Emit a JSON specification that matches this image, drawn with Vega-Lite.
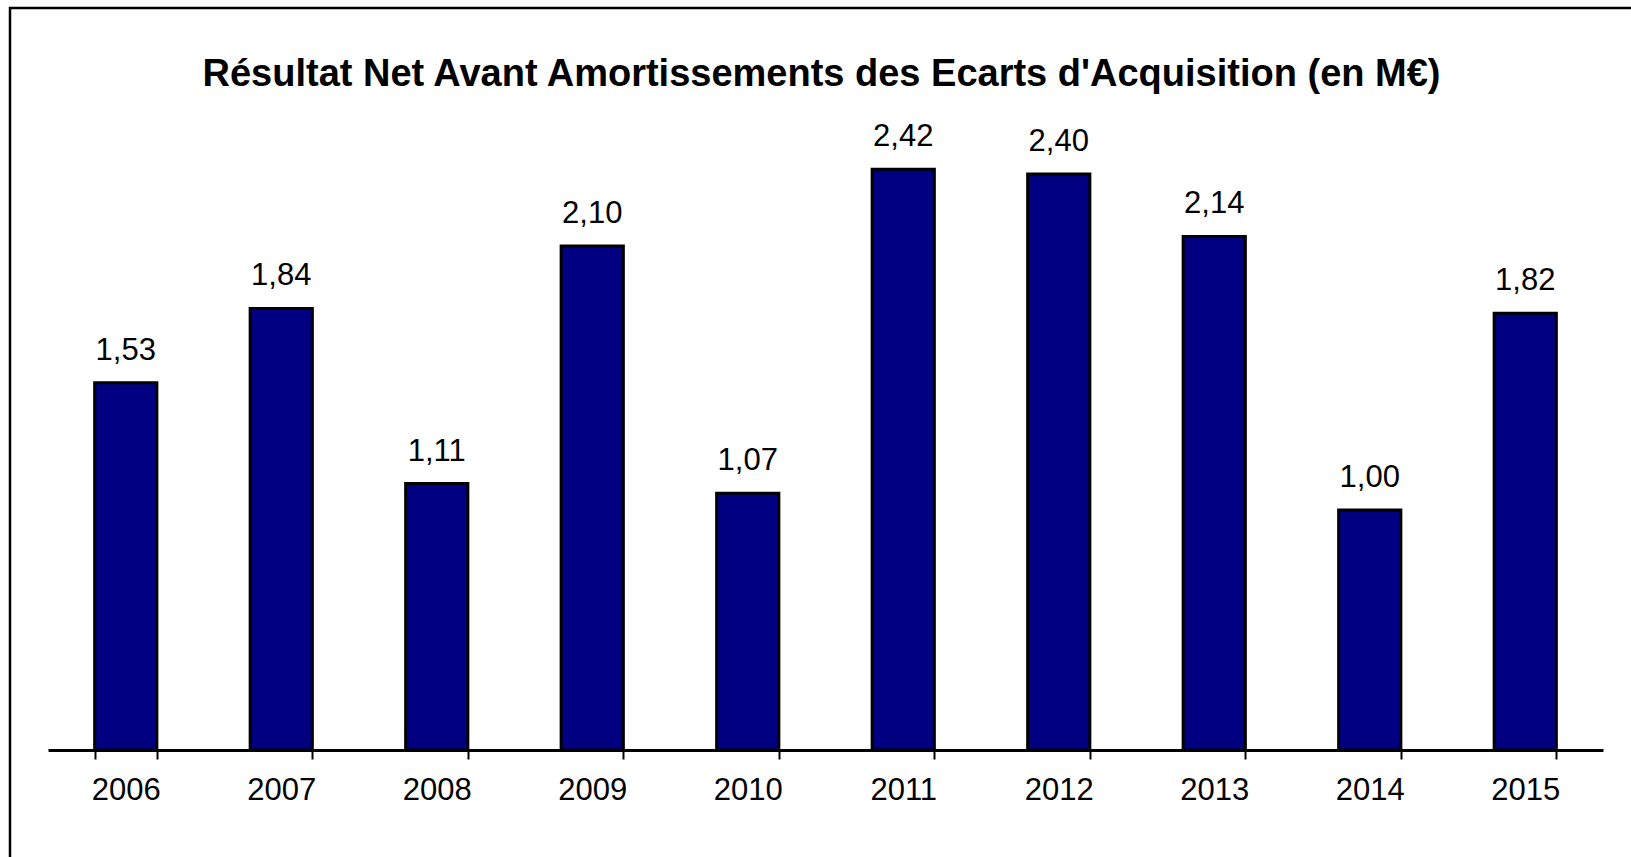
{
  "$schema": "https://vega.github.io/schema/vega-lite/v6.json",
  "autosize": {"type": "none"},
  "padding": {"left": 10, "top": 8, "right": 0, "bottom": 0},
  "width": 1623,
  "height": 851,
  "background": "white",
  "config": {
    "locale": {"number": {"decimal": ",", "thousands": " ", "grouping": [3], "currency": ["", " €"]}},
    "view": {"stroke": "black", "strokeWidth": 2.5},
    "font": "Liberation Sans"
  },
  "title": {
    "text": "Résultat Net Avant Amortissements des Ecarts d'Acquisition (en M€)",
    "font": "Liberation Sans",
    "fontSize": 38,
    "fontWeight": "bold",
    "color": "black",
    "anchor": "middle",
    "frame": "group",
    "baseline": "alphabetic",
    "offset": -116
  },
  "data": {
    "values": [
      {"year": "2006", "value": 1.53},
      {"year": "2007", "value": 1.84},
      {"year": "2008", "value": 1.11},
      {"year": "2009", "value": 2.10},
      {"year": "2010", "value": 1.07},
      {"year": "2011", "value": 2.42},
      {"year": "2012", "value": 2.40},
      {"year": "2013", "value": 2.14},
      {"year": "2014", "value": 1.00},
      {"year": "2015", "value": 1.82}
    ]
  },
  "encoding": {
    "x": {
      "field": "year",
      "type": "nominal",
      "sort": null,
      "scale": {"range": [38, 1593], "paddingInner": 0.6, "paddingOuter": 0.3},
      "axis": {
        "title": null,
        "labelAngle": 0,
        "labelFontSize": 31,
        "labelFont": "Liberation Sans",
        "labelColor": "black",
        "labelPadding": 16,
        "domainColor": "black",
        "domainWidth": 3,
        "tickColor": "black",
        "tickWidth": 2,
        "tickSize": 9,
        "tickBand": "extent",
        "grid": false,
        "offset": -109
      }
    },
    "y": {
      "field": "value",
      "type": "quantitative",
      "scale": {"domain": [0, 2.5], "range": [742, 142], "nice": false},
      "axis": null
    }
  },
  "layer": [
    {
      "mark": {"type": "bar", "color": "#000080", "stroke": "black", "strokeWidth": 3}
    },
    {
      "mark": {"type": "text", "baseline": "middle", "dy": -32, "fontSize": 31, "font": "Liberation Sans", "color": "black"},
      "encoding": {"text": {"field": "value", "type": "quantitative", "format": ".2f"}}
    }
  ]
}
